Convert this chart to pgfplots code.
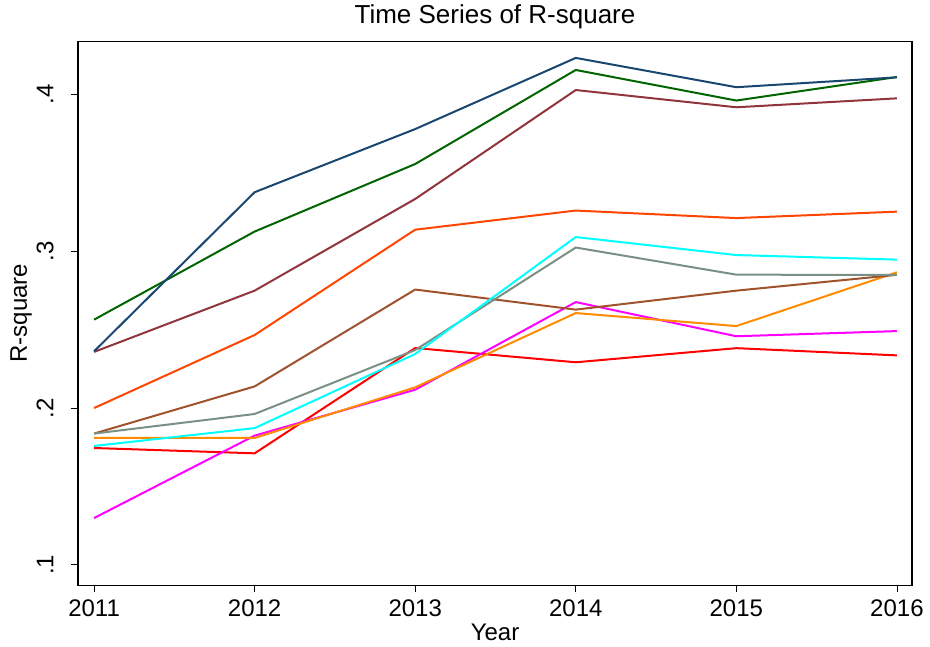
\documentclass[border=0pt]{standalone}
\usepackage{pgfplots}
\pgfplotsset{compat=1.18}
\usepackage{fontspec}
\setmainfont{Liberation Sans}
\definecolor{cnavy}{RGB}{26,71,111}
\definecolor{cgreen}{RGB}{0,100,0}
\definecolor{cmaroon}{RGB}{144,53,59}
\definecolor{corangered}{RGB}{255,69,0}
\definecolor{ccyan}{RGB}{0,255,255}
\definecolor{cgray}{RGB}{122,144,133}
\definecolor{cbrown}{RGB}{160,82,45}
\definecolor{corange}{RGB}{255,140,0}
\definecolor{cmagenta}{RGB}{255,0,255}
\definecolor{cred}{RGB}{255,0,0}
\begin{document}
\begin{tikzpicture}
\begin{axis}[
  scale only axis,
  width=625.5pt, height=408pt,
  xmin=2010.90, xmax=2016.094,
  ymin=0.0869, ymax=0.434,
  xtick={2011,2012,2013,2014,2015,2016},
  xticklabels={2011,2012,2013,2014,2015,2016},
  ytick={0.1,0.2,0.3,0.4},
  yticklabels={.1,.2,.3,.4},
  tick align=outside,
  major tick length=5pt,
  tick style={black, line width=0.6pt},
  xtick pos=bottom, ytick pos=left,
  axis line style={black, line width=0.8pt},
  xticklabel style={font=\fontsize{18}{18}\selectfont, anchor=base, yshift=-18.5pt},
  yticklabel style={font=\fontsize{18}{18}\selectfont, xshift=-13.5pt, rotate=90, anchor=base},
  title={Time Series of R-square},
  title style={font=\fontsize{19.5}{19.5}\selectfont, at={(axis description cs:0.5,1.0184)}, anchor=base},
  xlabel={Year},
  xlabel style={font=\fontsize{18}{18}\selectfont, at={(axis description cs:0.5,-0.1011)}, anchor=base},
  ylabel={R-square},
  ylabel style={font=\fontsize{18}{18}\selectfont, at={(axis description cs:-0.0612,0.5)}, anchor=base, rotate=0},
  every axis plot/.append style={line width=1.5pt, mark=none},
  clip=false,
]
\addplot[cred] coordinates {(2011,0.1745) (2012,0.1711) (2013,0.2383) (2014,0.2292) (2015,0.2382) (2016,0.2336)};
\addplot[cmagenta] coordinates {(2011,0.1298) (2012,0.1824) (2013,0.2117) (2014,0.2676) (2015,0.2458) (2016,0.2491)};
\addplot[corange] coordinates {(2011,0.1809) (2012,0.1809) (2013,0.2132) (2014,0.2606) (2015,0.2523) (2016,0.2866)};
\addplot[cbrown] coordinates {(2011,0.1837) (2012,0.2138) (2013,0.2756) (2014,0.2628) (2015,0.2749) (2016,0.2850)};
\addplot[cgray] coordinates {(2011,0.1837) (2012,0.1962) (2013,0.2370) (2014,0.3024) (2015,0.2851) (2016,0.2849)};
\addplot[ccyan] coordinates {(2011,0.1758) (2012,0.1872) (2013,0.2345) (2014,0.3091) (2015,0.2976) (2016,0.2947)};
\addplot[corangered] coordinates {(2011,0.2000) (2012,0.2466) (2013,0.3138) (2014,0.3260) (2015,0.3212) (2016,0.3253)};
\addplot[cmaroon] coordinates {(2011,0.2358) (2012,0.2749) (2013,0.3334) (2014,0.4029) (2015,0.3919) (2016,0.3976)};
\addplot[cgreen] coordinates {(2011,0.2564) (2012,0.3126) (2013,0.3557) (2014,0.4157) (2015,0.3962) (2016,0.4112)};
\addplot[cnavy] coordinates {(2011,0.2362) (2012,0.3377) (2013,0.3780) (2014,0.4234) (2015,0.4047) (2016,0.4110)};
\end{axis}
\path (current axis.south west) ++(-58.5pt,-45.75pt) coordinate (bbsw);
\path (current axis.north east) ++(13.5pt,29.25pt) coordinate (bbne);
\useasboundingbox (bbsw) rectangle (bbne);
\end{tikzpicture}
\end{document}
